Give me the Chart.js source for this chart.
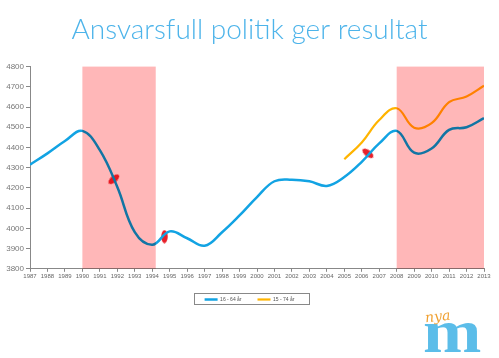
<!DOCTYPE html>
<html>
<head>
<meta charset="utf-8">
<script src="https://cdn.jsdelivr.net/npm/chart.js@4/dist/chart.umd.min.js"></script>
<style>
  html, body { margin: 0; padding: 0; background: #fff; }
  #wrap { position: relative; width: 499px; height: 358px; overflow: hidden; }
  #c { position: absolute; left: 0; top: 0; }
  .logo-m { position: absolute; left: 423px; top: 300px; font-family: "Liberation Serif", serif; font-weight: bold; font-size: 62px; color: #5bbde9; line-height: 62px; transform: scaleX(1.13); transform-origin: left top; z-index: 1; }
  .logo-nya { position: absolute; left: 425px; top: 309px; font-family: "DejaVu Serif", serif; font-style: italic; font-size: 14px; color: #f0a030; line-height: 14px; transform: rotate(-6deg); z-index: 2; }
</style>
</head>
<body>
<div id="wrap">
  <canvas id="c" width="499" height="358"></canvas>
  <div class="logo-m">m</div>
  <div class="logo-nya">nya</div>
</div>
<script>
const years = [1987,1988,1989,1990,1991,1992,1993,1994,1995,1996,1997,1998,1999,2000,2001,2002,2003,2004,2005,2006,2007,2008,2009,2010,2011,2012,2013];
const employed1664 = [4315,4371,4432,4482,4387,4205,3981,3919,3985,3951,3914,3981,4064,4155,4233,4241,4233,4210,4254,4329,4420,4482,4374,4395,4487,4500,4545];
const years1574 = [2005,2006,2007,2008,2009,2010,2011,2012,2013];
const employed1574 = [4342,4425,4536,4594,4498,4520,4624,4652,4705];
const seriesNames = ["16 - 64 år", "15 - 74 år"];
const shadeStart = [1990, 2008];
const shadeEnd = [1994.2, 2013];
const markerYears = [1991.8, 1994.7, 2006.35];
const markerValues = [4243, 3959, 4371];
const titleText = "Ansvarsfull politik ger resultat";

// red ellipse marker image
const ell = document.createElement('canvas');
ell.width = 14; ell.height = 7;
(function(){
  const g = ell.getContext('2d');
  g.fillStyle = '#e8202a';
  g.beginPath();
  g.ellipse(7, 3.5, 6.5, 3.2, 0, 0, Math.PI*2);
  g.fill();
})();

const whiteBg = {
  id: 'whiteBg',
  beforeDraw(chart) {
    const ctx = chart.ctx;
    ctx.save();
    ctx.fillStyle = '#fff';
    ctx.fillRect(0, 0, chart.width, chart.height);
    ctx.restore();
  }
};

const shades = {
  id: 'shades',
  afterDatasetsDraw(chart) {
    const ctx = chart.ctx, xs = chart.scales.x, a = chart.chartArea;
    ctx.save();
    ctx.globalCompositeOperation = 'multiply';
    ctx.fillStyle = '#ffb7b8';
    for (let i = 0; i < shadeStart.length; i++) {
      const x0 = xs.getPixelForValue(shadeStart[i]);
      const x1 = xs.getPixelForValue(shadeEnd[i]);
      ctx.fillRect(x0, a.top, x1 - x0, a.bottom - a.top);
    }
    ctx.restore();
  }
};

const legendBox = {
  id: 'legendBox',
  afterDraw(chart) {
    const boxes = chart.legend && chart.legend.legendHitBoxes;
    if (!boxes || !boxes.length) return;
    let l = Infinity, t = Infinity, b = -Infinity;
    boxes.forEach(h => { l = Math.min(l, h.left); t = Math.min(t, h.top); b = Math.max(b, h.top + h.height); });
    const cy = (t + b) / 2;
    const ctx = chart.ctx;
    ctx.save();
    ctx.strokeStyle = '#888';
    ctx.lineWidth = 1;
    ctx.strokeRect(Math.round(l - 11) + 0.5, Math.round(cy - 6) + 0.5, 115, 11);
    ctx.restore();
  }
};

const blueData = years.map((y, i) => ({x: y, y: employed1664[i]}));
const orangeData = years1574.map((y, i) => ({x: y, y: employed1574[i]}));
const markerData = markerYears.map((y, i) => ({x: y, y: markerValues[i]}));

new Chart(document.getElementById('c'), {
  type: 'line',
  data: {
    datasets: [
      { label: seriesNames[0], data: blueData, borderColor: '#12a3e3', backgroundColor: '#12a3e3', borderWidth: 2.5, pointRadius: 0, tension: 0.4, fill: false },
      { label: seriesNames[1], data: orangeData, borderColor: '#ffb400', backgroundColor: '#ffb400', borderWidth: 2.2, pointRadius: 0, tension: 0.4, fill: false },
      { label: 'markers', data: markerData, showLine: false, pointStyle: ell, pointRotation: [-40, 90, 38], pointRadius: 7, pointHoverRadius: 7 }
    ]
  },
  options: {
    responsive: false,
    animation: false,
    events: [],
    layout: { padding: { top: 13, left: 0, right: 0, bottom: 46 } },
    plugins: {
      title: { display: true, text: titleText, color: '#4db4ea', font: { family: 'Lato, "Open Sans", sans-serif', size: 28, weight: 300 }, padding: { top: 0, bottom: 20 } },
      legend: {
        position: 'bottom',
        labels: {
          filter: item => item.datasetIndex < 2,
          usePointStyle: true,
          pointStyle: 'line',
          pointStyleWidth: 13,
          boxHeight: 5,
          padding: 16,
          color: '#555',
          font: { family: '"Liberation Sans Narrow", "Liberation Sans", sans-serif', size: 5 }
        }
      },
      tooltip: { enabled: false }
    },
    scales: {
      x: {
        type: 'linear', min: 1987, max: 2013,
        grid: { display: true, drawOnChartArea: false, tickLength: 3, color: '#888' },
        border: { color: '#888', width: 1 },
        ticks: { stepSize: 1, autoSkip: false, maxRotation: 0, minRotation: 0, padding: 1, color: '#666', font: { family: '"Liberation Sans Narrow", "Liberation Sans", sans-serif', size: 6 }, callback: v => String(v) }
      },
      y: {
        min: 3800, max: 4800,
        afterFit(s) { s.width = 30; },
        grid: { display: true, drawOnChartArea: false, tickLength: 4, color: '#888' },
        border: { color: '#888', width: 1 },
        ticks: { stepSize: 100, padding: 2, color: '#777', font: { family: '"Liberation Sans", sans-serif', size: 8 }, callback: v => String(v) }
      },
      yRight: {
        position: 'right', min: 3800, max: 4800,
        afterFit(s) { s.width = 15; },
        grid: { display: false },
        border: { display: false },
        ticks: { display: false }
      }
    }
  },
  plugins: [whiteBg, shades, legendBox]
});
</script>
</body>
</html>
